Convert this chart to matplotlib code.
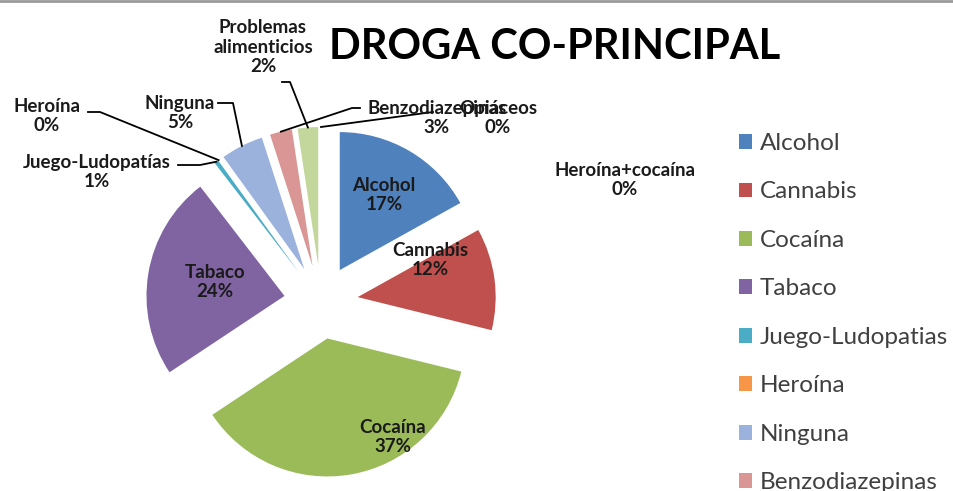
import matplotlib.pyplot as plt
import numpy as np

plt.rcParams['font.family'] = ['Lato', 'DejaVu Sans']

# data (percent of cases)
categories = ["Alcohol", "Cannabis", "Cocaína", "Tabaco", "Juego-Ludopatias", "Heroína",
              "Ninguna", "Benzodiazepinas", "Problemas alimenticios", "Opiáceos", "Heroína+cocaína"]
label_names = ["Alcohol", "Cannabis", "Cocaína", "Tabaco", "Juego-Ludopatías", "Heroína",
               "Ninguna", "Benzodiazepinas", "Problemas\nalimenticios", "Opiáceos", "Heroína+cocaína"]
values = [17, 12, 37, 24, 0.5, 0, 5, 2.6, 2.4, 0, 0]
shown_pct = ["17%", "12%", "37%", "24%", "1%", "0%", "5%", "3%", "2%", "0%", "0%"]
colors = ["#4F81BD", "#C0504D", "#9BBB59", "#8064A2", "#4BACC6", "#F79646",
          "#9BB2DC", "#D99694", "#C3D69B", "#B3A2C7", "#93CDDD"]

W, H = 954, 491
fig = plt.figure(figsize=(W / 100, H / 100), dpi=100)
ax = fig.add_axes([0, 0, 1, 1])

wedges, _ = ax.pie(values, colors=colors, startangle=90, counterclock=False,
                   center=(321, H - 302), radius=138, explode=[37] * len(values),
                   wedgeprops=dict(linewidth=0))
ax.set_xlim(0, W)
ax.set_ylim(0, H)
ax.set_aspect('equal')
ax.axis('off')

# label layout in pixel coords (x, y from top)
label_pos = [(384, 195), (430, 260), (393, 437), (215, 282), (97, 172), (47, 116),
             (180, 113), (437, 118), (263, 47), (498, 118), (625, 180)]
# leader lines: start point and elbow (pixel coords), end is on the slice arc
leaders = {4: [(178, 165), (200, 165)], 5: [(88, 112), (100, 112)],
           6: [(218, 103), (233, 103)], 7: [(360, 108), (352, 108)],
           8: [(282, 82), (290, 82)], 9: [(433, 112)]}

for name, pct, (x, y) in zip(label_names, shown_pct, label_pos):
    ax.text(x, H - y, f"{name}\n{pct}", ha='center', va='center', fontsize=13.5,
            fontweight='bold', color='#1a1a1a', linespacing=1.15, zorder=5)

for i, pts in leaders.items():
    w = wedges[i]
    mid = np.deg2rad((w.theta1 + w.theta2) / 2)
    end = (w.center[0] + w.r * np.cos(mid), w.center[1] + w.r * np.sin(mid))
    xs = [px for px, _ in pts] + [end[0]]
    ys = [H - py for _, py in pts] + [end[1]]
    ax.plot(xs, ys, color='black', lw=1.3, zorder=4)

ax.text(555, H - 47, "DROGA CO-PRINCIPAL", ha='center', va='center',
        fontsize=30, fontweight='bold', color='black')

fig.legend(wedges, categories, loc='upper left', bbox_to_anchor=(739 / W, 1 - 133 / H),
           frameon=False, fontsize=17.5, labelspacing=1.13, handlelength=0.55,
           handleheight=0.55, handletextpad=0.3, borderpad=0, borderaxespad=0,
           labelcolor='#404040')

fig.add_artist(plt.Line2D([0, 1], [0.998, 0.998], color='#9a9a9a', lw=2))

fig.savefig("out.png", dpi=100, facecolor='white')
